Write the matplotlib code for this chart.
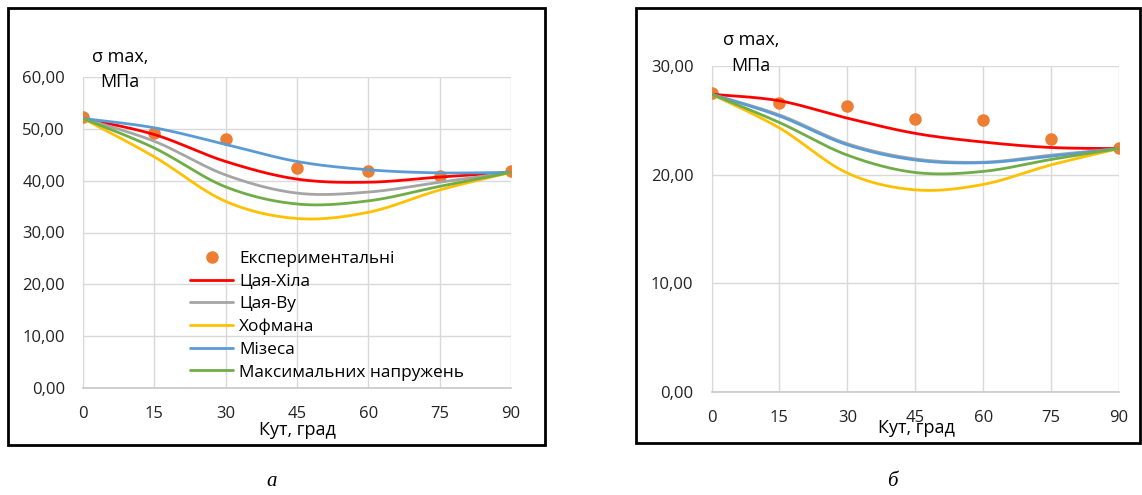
import numpy as np
import matplotlib
matplotlib.use("Agg")
import matplotlib.pyplot as plt
from matplotlib.patches import Rectangle

plt.rcParams['font.family'] = ['Open Sans', 'DejaVu Sans']

# Angle of fibre orientation, degrees
angles = [0, 15, 30, 45, 60, 75, 90]

# Panel (а)
exp_a = [52.3, 49.2, 48.0, 42.4, 41.8, 40.9, 41.8]
tsai_hill_a = [52.0, 48.9, 43.7, 40.3, 39.7, 40.7, 41.6]
tsai_wu_a = [52.0, 47.6, 41.1, 37.6, 37.8, 39.7, 41.6]
hoffman_a = [52.0, 44.6, 36.0, 32.7, 33.9, 38.2, 41.6]
mises_a = [52.0, 50.2, 47.0, 43.7, 42.1, 41.5, 41.6]
max_stress_a = [52.0, 46.3, 38.8, 35.5, 36.1, 38.9, 41.6]

# Panel (б)
exp_b = [27.5, 26.6, 26.3, 25.1, 25.0, 23.3, 22.5]
tsai_hill_b = [27.4, 26.8, 25.2, 23.8, 23.0, 22.5, 22.4]
tsai_wu_b = [27.4, 25.5, 22.85, 21.45, 21.15, 21.8, 22.4]
hoffman_b = [27.4, 24.3, 20.15, 18.6, 19.1, 20.9, 22.4]
mises_b = [27.4, 25.4, 22.75, 21.35, 21.1, 21.7, 22.4]
max_stress_b = [27.4, 24.8, 21.8, 20.2, 20.3, 21.4, 22.4]

labels = ['Експериментальні', 'Цая-Хіла', 'Цая-Ву', 'Хофмана', 'Мізеса',
          'Максимальних напружень']
colors = ['#ED7D31', '#FF0000', '#A5A5A5', '#FFC000', '#5B9BD5', '#70AD47']
yticks_a = [0, 10, 20, 30, 40, 50, 60]
yticks_b = [0, 10, 20, 30]


def smooth(x, y, n=40):
    """Smoothed line through the points (Catmull-Rom Bezier segments)."""
    x = np.asarray(x, float)
    y = np.asarray(y, float)
    px = np.concatenate([[x[0]], x, [x[-1]]])
    py = np.concatenate([[y[0]], y, [y[-1]]])
    t = np.linspace(0, 1, n)
    xs, ys = [], []
    for i in range(len(x) - 1):
        p0 = np.array([px[i], py[i]])
        p1 = np.array([px[i + 1], py[i + 1]])
        p2 = np.array([px[i + 2], py[i + 2]])
        p3 = np.array([px[i + 3], py[i + 3]])
        c1 = p1 + (p2 - p0) / 6.0
        c2 = p2 - (p3 - p1) / 6.0
        b = ((1 - t) ** 3)[:, None] * p1 + (3 * (1 - t) ** 2 * t)[:, None] * c1 \
            + (3 * (1 - t) * t ** 2)[:, None] * c2 + (t ** 3)[:, None] * p2
        xs.append(b[:, 0])
        ys.append(b[:, 1])
    return np.concatenate(xs), np.concatenate(ys)


W, H = 1142, 495
fig = plt.figure(figsize=(W / 100, H / 100), dpi=100)


def px_axes(x0, x1, y0, y1):
    return fig.add_axes([x0 / W, 1 - y1 / H, (x1 - x0) / W, (y1 - y0) / H])


def style_axes(ax, ymax, yticks):
    ax.set_xlim(0, 90)
    ax.set_ylim(0, ymax)
    ax.set_xticks(angles)
    ax.set_yticks(yticks)
    ax.set_yticklabels([f"{v:.2f}".replace('.', ',') for v in yticks])
    ax.grid(True, color='#d9d9d9', linewidth=1.0)
    ax.set_axisbelow(True)
    for s in ['top', 'right']:
        ax.spines[s].set_visible(False)
    ax.spines['left'].set_color('#d9d9d9')
    ax.spines['bottom'].set_color('#c8c8c8')
    ax.spines['bottom'].set_linewidth(1.2)
    ax.tick_params(length=0, labelsize=12, colors='#222222')
    ax.tick_params(axis='x', pad=13)
    ax.tick_params(axis='y', pad=13)


def draw_series(ax, exp, curves):
    ax.plot(angles, exp, 'o', color=colors[0], markersize=8, label=labels[0],
            zorder=3)
    for vals, c, lab in zip(curves, colors[1:], labels[1:]):
        sx, sy = smooth(angles, vals)
        ax.plot(sx, sy, color=c, linewidth=2.0, label=lab, zorder=4,
                solid_capstyle='round')


ax1 = px_axes(83, 511, 77, 388)
style_axes(ax1, 60, yticks_a)
draw_series(ax1, exp_a, [tsai_hill_a, tsai_wu_a, hoffman_a, mises_a, max_stress_a])
ax1.legend(loc='upper left', bbox_to_anchor=(190 / W, 1 - 251 / H),
           bbox_transform=fig.transFigure, frameon=False, fontsize=12.4,
           handlelength=2.5, handletextpad=0.35, labelspacing=0.38,
           borderpad=0, borderaxespad=0)

ax2 = px_axes(711.5, 1119, 66, 392)
style_axes(ax2, 30, yticks_b)
draw_series(ax2, exp_b, [tsai_hill_b, tsai_wu_b, hoffman_b, mises_b, max_stress_b])

# Axis titles
fig.text(120 / W, 1 - 57 / H, 'σ max,', ha='center', va='center', fontsize=13)
fig.text(120 / W, 1 - 82 / H, 'МПа', ha='center', va='center', fontsize=13)
fig.text(297 / W, 1 - 430 / H, 'Кут, град', ha='center', va='center', fontsize=13)

fig.text(751 / W, 1 - 40 / H, 'σ max,', ha='center', va='center', fontsize=13)
fig.text(751 / W, 1 - 66 / H, 'МПа', ha='center', va='center', fontsize=13)
fig.text(916 / W, 1 - 428 / H, 'Кут, град', ha='center', va='center', fontsize=13)

# Panel captions
fig.text(272 / W, 1 - 482 / H, 'а', ha='center', va='center', fontsize=15,
         family='Liberation Serif', style='italic')
fig.text(892 / W, 1 - 482 / H, 'б', ha='center', va='center', fontsize=15,
         family='Liberation Serif', style='italic')

# Frames around each chart
for x0, y0, x1, y1 in [(8, 8, 545, 445), (636, 8, 1140, 443)]:
    fig.add_artist(Rectangle((x0 / W, 1 - y1 / H), (x1 - x0) / W, (y1 - y0) / H,
                             transform=fig.transFigure, fill=False,
                             edgecolor='black', linewidth=2.0))

fig.savefig('out.png', dpi=100)
